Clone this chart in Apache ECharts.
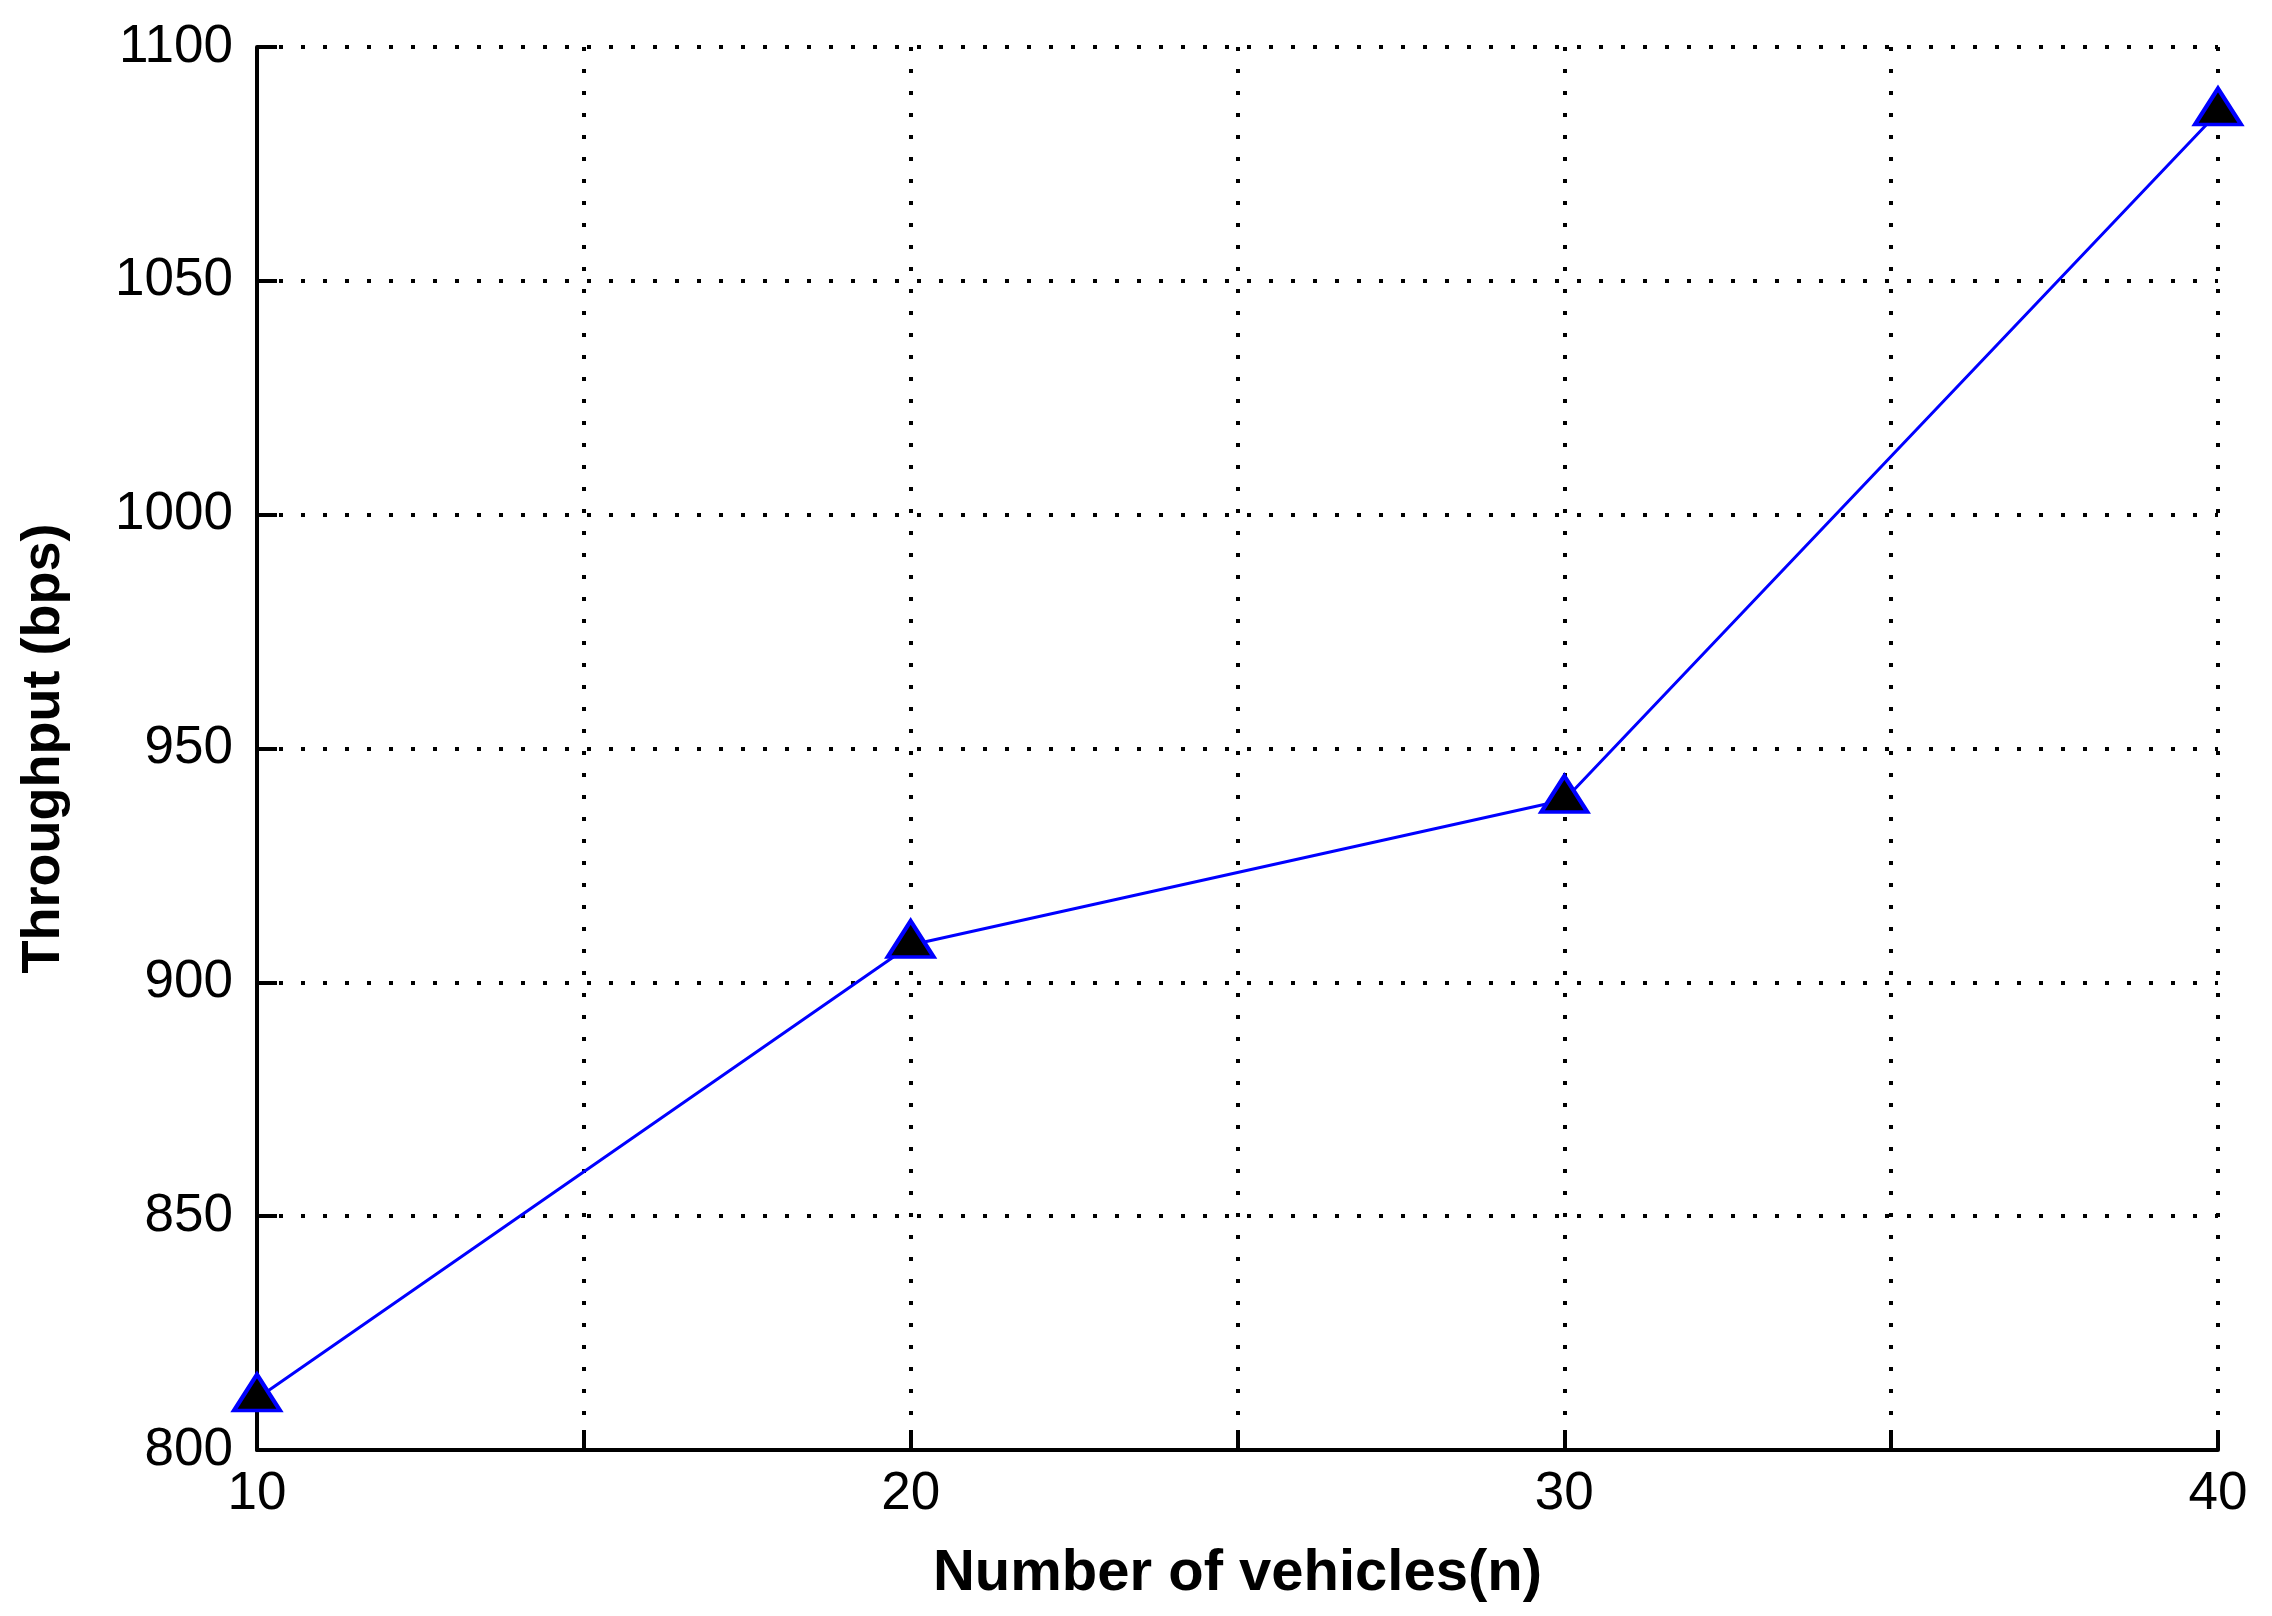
<!DOCTYPE html>
<html>
<head>
<meta charset="utf-8">
<script src="https://cdn.jsdelivr.net/npm/echarts@6/dist/echarts.min.js"></script>
<style>
  html, body { margin: 0; padding: 0; background: #fff; }
  #chart { width: 2272px; height: 1616px; }
</style>
</head>
<body>
<div id="chart"></div>
<script>
// data
const vehicles = [10, 20, 30, 40];
const throughput = [811, 908, 939, 1086];
const xTickLabels = [10, 20, 30, 40];

const chart = echarts.init(document.getElementById("chart"));
const font = "Liberation Sans, Arial, sans-serif";

chart.setOption({
  animation: false,
  backgroundColor: "#fff",
  grid: {
    left: 257,
    right: 54,
    top: 47,
    bottom: 166,
    containLabel: false,
    outerBoundsMode: "none",
  },
  xAxis: {
    type: "value",
    min: 10,
    max: 40,
    interval: 5,
    name: "Number of vehicles(n)",
    nameLocation: "middle",
    nameGap: 95,
    nameMoveOverlap: false,
    nameTextStyle: {
      fontFamily: font,
      fontWeight: "bold",
      fontSize: 58,
      color: "#000",
    },
    axisLine: { lineStyle: { color: "#000", width: 4 } },
    axisTick: { inside: true, length: 20, lineStyle: { color: "#000", width: 4 } },
    axisLabel: {
      margin: 18,
      fontFamily: font,
      fontSize: 53,
      color: "#000",
      formatter: (v) => (xTickLabels.includes(v) ? String(v) : ""),
    },
    splitLine: {
      show: true,
      lineStyle: { color: "#000", width: 4, type: [4, 18] },
    },
  },
  yAxis: {
    type: "value",
    min: 800,
    max: 1100,
    interval: 50,
    name: "Throughput (bps)",
    nameLocation: "middle",
    nameGap: 186,
    nameMoveOverlap: false,
    nameTextStyle: {
      fontFamily: font,
      fontWeight: "bold",
      fontSize: 54,
      color: "#000",
    },
    axisLine: { show: true, lineStyle: { color: "#000", width: 4 } },
    axisTick: { show: true, inside: true, length: 20, lineStyle: { color: "#000", width: 4 } },
    axisLabel: {
      margin: 24,
      fontFamily: font,
      fontSize: 53,
      color: "#000",
      formatter: (v) => String(v),
    },
    splitLine: {
      show: true,
      lineStyle: { color: "#000", width: 4, type: [4, 18] },
    },
  },
  series: [
    {
      type: "line",
      data: vehicles.map((v, i) => [v, throughput[i]]),
      symbol: "triangle",
      symbolSize: [46, 36],
      symbolOffset: [0, -6],
      lineStyle: { color: "#0000ff", width: 3 },
      itemStyle: { color: "#000", borderColor: "#0000ff", borderWidth: 4 },
      z: 5,
    },
  ],
});
</script>
</body>
</html>
